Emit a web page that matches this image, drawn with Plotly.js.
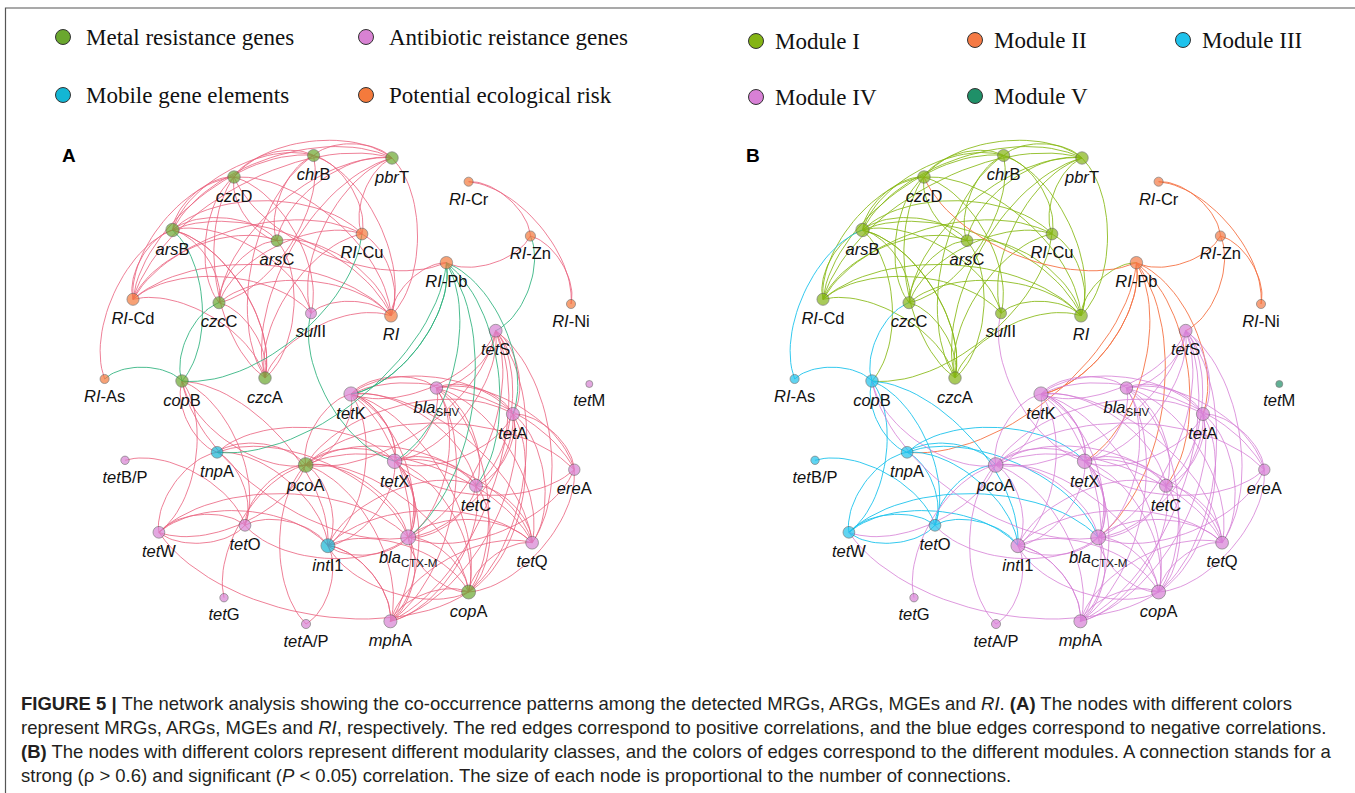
<!DOCTYPE html>
<html><head><meta charset="utf-8">
<script src="https://cdn.plot.ly/plotly-3.0.1.min.js"></script>
<style>html,body{margin:0;padding:0;background:#fff}#chart{width:1355px;height:793px}</style>
</head><body><div id="chart"></div>
<script>
// ---------------- DATA ----------------
const nodeIds = ['czcD','chrB','pbrT','RI-Cr','arsB','arsC','RI-Cu','RI-Zn','RI-Pb','RI-Cd','czcC','sulII','RI','RI-Ni',
  'tetS','RI-As','copB','czcA','tetK','blaSHV','tetM','tetA','tnpA','tetB/P','pcoA','tetX','ereA','tetC','tetW','tetO',
  'intI1','blaCTX-M','tetQ','copA','tetG','mphA','tetA/P'];
const nodeLabels = ['<i>czc</i>D','<i>chr</i>B','<i>pbr</i>T','<i>RI</i>-Cr','<i>ars</i>B','<i>ars</i>C','<i>RI</i>-Cu','<i>RI</i>-Zn',
  '<i>RI</i>-Pb','<i>RI</i>-Cd','<i>czc</i>C','<i>sul</i>II','<i>RI</i>','<i>RI</i>-Ni','<i>tet</i>S','<i>RI</i>-As','<i>cop</i>B',
  '<i>czc</i>A','<i>tet</i>K','<i>bla</i><sub>SHV</sub>','<i>tet</i>M','<i>tet</i>A','<i>tnp</i>A','<i>tet</i>B/P','<i>pco</i>A',
  '<i>tet</i>X','<i>ere</i>A','<i>tet</i>C','<i>tet</i>W','<i>tet</i>O','<i>int</i>I1','<i>bla</i><sub>CTX-M</sub>','<i>tet</i>Q',
  '<i>cop</i>A','<i>tet</i>G','<i>mph</i>A','<i>tet</i>A/P'];
// layout coordinates of the network (shared by both panels)
const nodeX = [234,313.6,392,468.6,172.5,277,362,530.4,446.4,133,219,311,391,571,
  495.7,104.6,182,265,351,436.4,589.3,512.9,217.1,125,305.7,394.6,574.3,476,158.9,245,
  327.9,408.2,532.1,468.6,224,390.4,306];
const nodeY = [177,155.5,158,181.7,230,240.7,234,236,262.7,299.3,302.7,313.3,315.7,304,
  330.7,379,381,378,394,388,384,414,452.3,460.3,465,461.3,469.7,485.7,532.3,525.3,
  545.7,537.3,542.7,592,597.7,621.3,624];
const nodeCategory = ['MRG','MRG','MRG','RI','MRG','MRG','RI','RI','RI','RI','MRG','ARG','RI','RI',
  'ARG','RI','MRG','MRG','ARG','ARG','ARG','ARG','MGE','ARG','MRG','ARG','ARG','ARG','ARG','ARG',
  'MGE','ARG','ARG','MRG','ARG','ARG','ARG'];
const nodeModule = [1,1,1,2,1,1,1,2,2,1,1,1,1,2,
  4,3,3,1,4,4,5,4,3,3,4,4,4,4,3,3,
  4,4,4,4,4,4,4];
// edges: [source, target, sign of correlation]
const edges = [
  ['czcD','chrB',1],['czcD','pbrT',1],['chrB','pbrT',1],['arsB','czcD',1],['arsB','chrB',1],['arsB','pbrT',1],
  ['arsB','arsC',1],['arsB','RI-Cu',1],['arsB','RI',1],['arsB','czcA',1],['arsB','czcC',1],['RI-Cd','arsB',1],
  ['arsC','czcD',1],['arsC','chrB',1],['arsC','pbrT',1],['RI-Cd','arsC',1],['arsC','czcA',1],['arsC','RI',1],
  ['czcC','arsC',1],['RI-Cd','czcD',1],['RI-Cd','pbrT',1],['RI-Cd','chrB',1],['RI-Cd','RI',1],['RI-Cd','sulII',1],
  ['RI-Cd','RI-Cu',1],['czcC','czcD',1],['czcC','pbrT',1],['czcC','RI',1],['czcC','RI-Cu',1],['czcC','czcA',1],
  ['czcA','czcD',1],['czcA','chrB',1],['czcA','pbrT',1],['czcA','RI',1],['chrB','RI',1],['pbrT','RI',1],
  ['sulII','RI',1],['sulII','pbrT',1],['czcA','RI-Cu',1],['RI-Cd','czcA',1],['RI-Cu','pbrT',1],['czcD','RI',1],
  ['chrB','czcC',1],['czcD','sulII',1],['arsB','sulII',1],['RI-Cu','RI',1],['chrB','RI-Cu',1],['arsB','czcA',1],
  ['RI-Cr','RI-Zn',1],['RI-Cr','RI-Ni',1],['RI-Zn','RI-Pb',1],['RI-Zn','RI-Ni',1],['RI','RI-Pb',1],['RI-Pb','czcD',1],
  ['RI-Zn','tetS',-1],['RI-Pb','tetK',-1],['RI-Pb','tetX',-1],['RI-Pb','blaCTX-M',-1],['RI-Pb','tetC',-1],
  ['RI-Pb','tetA',-1],['RI-Pb','tnpA',-1],['RI-Pb','tetK',-1],
  ['RI-As','copB',-1],['arsB','copB',-1],['copB','czcC',-1],['RI-Cu','copB',-1],['RI-As','arsB',1],
  ['tnpA','copB',1],['copB','tetO',1],['copB','tetW',1],['copB','intI1',1],['pcoA','copB',1],['blaCTX-M','copB',1],
  ['tnpA','tetO',1],['tetW','tnpA',1],['tnpA','pcoA',1],['tnpA','intI1',1],['tnpA','blaCTX-M',1],['tnpA','tetX',1],
  ['tetB/P','tetO',1],['tetW','tetO',1],['tetO','tetW',1],['tetW','intI1',1],['tetW','blaCTX-M',1],['pcoA','tetW',1],
  ['tetO','pcoA',1],['tetO','intI1',1],['tetX','sulII',-1],['copA','tetW',1],['blaCTX-M','tetO',1],
  ['tetS','tetK',1],['tetS','blaSHV',1],['tetS','tetX',1],['tetS','tetA',1],['tetS','tetC',1],['tetS','blaCTX-M',1],
  ['tetS','copA',1],['tetS','mphA',1],['tetS','tetQ',1],['tetK','blaSHV',1],['tetK','tetA',1],['tetK','tetX',1],
  ['tetK','tetC',1],['tetK','blaCTX-M',1],['tetK','mphA',1],['tetK','copA',1],['tetK','tetQ',1],['tetK','ereA',1],
  ['pcoA','tetK',1],['tetK','intI1',1],['blaSHV','tetA',1],['blaSHV','tetX',1],['blaSHV','tetC',1],
  ['blaSHV','blaCTX-M',1],['blaSHV','mphA',1],['blaSHV','copA',1],['blaSHV','tetQ',1],['blaSHV','ereA',1],
  ['tetA','tetX',1],['tetA','tetC',1],['tetA','blaCTX-M',1],['tetA','copA',1],['tetA','tetQ',1],['tetA','ereA',1],
  ['tetA','mphA',1],['pcoA','tetA',1],['tetX','tetC',1],['tetX','blaCTX-M',1],['tetX','mphA',1],['tetX','copA',1],
  ['tetX','tetQ',1],['pcoA','tetX',1],['tetX','intI1',1],['tetC','blaCTX-M',1],['tetC','copA',1],['tetC','tetQ',1],
  ['tetC','mphA',1],['pcoA','tetC',1],['blaCTX-M','mphA',1],['copA','blaCTX-M',1],['blaCTX-M','intI1',1],
  ['pcoA','blaCTX-M',1],['blaCTX-M','tetQ',1],['mphA','copA',1],['intI1','mphA',1],['pcoA','mphA',1],
  ['intI1','copA',1],['pcoA','copA',1],['copA','tetQ',1],['ereA','copA',1],['ereA','blaCTX-M',1],['ereA','tetX',1],
  ['intI1','tetQ',1],['pcoA','intI1',1],['tetG','pcoA',1],['intI1','tetA/P',1],['tetA/P','pcoA',1],['pcoA','tetQ',1],
  ['intI1','tetC',1],['tetK','tetX',1],['tetX','blaCTX-M',1],['intI1','mphA',1],['blaCTX-M','copA',1],
  ['pcoA','ereA',1],['mphA','tetQ',1],['tetK','pcoA',1],['copA','intI1',1],['tetS','pcoA',1]
];
const categoryNames = ['Metal resistance genes','Antibiotic reistance genes','Mobile gene elements','Potential ecological risk'];
const categoryKeys = ['MRG','ARG','MGE','RI'];
const moduleNames = ['Module I','Module II','Module III','Module IV','Module V'];
const captionLines = [
  '<b>FIGURE 5 |</b> The network analysis showing the co-occurrence patterns among the detected MRGs, ARGs, MGEs and <i>RI</i>. <b>(A)</b> The nodes with different colors',
  'represent MRGs, ARGs, MGEs and <i>RI</i>, respectively. The red edges correspond to positive correlations, and the blue edges correspond to negative correlations.',
  '<b>(B)</b> The nodes with different colors represent different modularity classes, and the colors of edges correspond to the different modules. A connection stands for a',
  'strong (\u03c1 > 0.6) and significant (<i>P</i> < 0.05) correlation. The size of each node is proportional to the number of connections.'
];

// ---------------- STYLE ----------------
const catColor = {MRG:'#6aa72e', ARG:'#d882d3', MGE:'#13b6d4', RI:'#f47a3c'};
const modColor = {1:'#84b414', 2:'#f57a45', 3:'#1ec2ec', 4:'#d880d6', 5:'#1f9068'};
const modEdge = {1:'rgba(135,185,20,0.85)', 2:'rgba(245,115,70,0.9)', 3:'rgba(30,195,236,0.9)', 4:'rgba(214,128,214,0.8)', 5:'rgba(31,144,104,0.8)'};
const posEdge = 'rgba(234,100,128,0.82)', negEdge = 'rgba(45,178,125,0.85)';
const PANEL_B_SHIFT = 690;
const CURV = 0.22;

const idx = {}; nodeIds.forEach((n,i)=>idx[n]=i);
const deg = nodeIds.map(()=>0);
edges.forEach(e=>{deg[idx[e[0]]]++; deg[idx[e[1]]]++;});
const maxDeg = Math.max(...deg);
const nodeSize = deg.map(d=>7 + 8*Math.pow(d/maxDeg,0.6));

function curvePts(a,b){
  const x1=nodeX[a], y1=nodeY[a], x2=nodeX[b], y2=nodeY[b];
  const dx=x2-x1, dy=y2-y1, L=Math.hypot(dx,dy);
  const ux=dx/L, uy=dy/L, f=CURV*L;
  const nx=uy*f, ny=-ux*f;
  const c1x=x1+ux*f+nx, c1y=y1+uy*f+ny, c2x=x2-ux*f+nx, c2y=y2-uy*f+ny;
  const xs=[], ys=[];
  for(let k=0;k<=28;k++){
    const t=k/28, m=1-t;
    xs.push(m*m*m*x1+3*m*m*t*c1x+3*m*t*t*c2x+t*t*t*x2);
    ys.push(m*m*m*y1+3*m*m*t*c1y+3*m*t*t*c2y+t*t*t*y2);
  }
  return [xs,ys];
}

const traces = [];
function edgeTrace(list, color, xaxis){
  const X=[], Y=[];
  list.forEach(e=>{const p=curvePts(idx[e[0]],idx[e[1]]); X.push(...p[0],null); Y.push(...p[1],null);});
  return {type:'scatter', mode:'lines', x:X, y:Y, xaxis:xaxis, yaxis:'y', hoverinfo:'skip', showlegend:false,
    line:{color:color, width:1}};
}
traces.push(edgeTrace(edges.filter(e=>e[2]>0), posEdge, 'x'));
traces.push(edgeTrace(edges.filter(e=>e[2]<0), negEdge, 'x'));
[1,2,3,4,5].forEach(m=>{
  const l = edges.filter(e=>nodeModule[idx[e[0]]]===m);
  if(l.length) traces.push(edgeTrace(l, modEdge[m], 'x2'));
});
const labelFont = {family:'Liberation Sans, Arial, sans-serif', size:16.5, color:'#111'};
const labelY = nodeY.map((y,i)=>y + nodeSize[i]/2 + 6);
['x','x2'].forEach((ax,p)=>{
  traces.push({type:'scatter', mode:'markers', x:nodeX, y:nodeY, xaxis:ax, yaxis:'y', hoverinfo:'skip', showlegend:false,
    marker:{size:nodeSize, color:p===0 ? nodeCategory.map(c=>catColor[c]) : nodeModule.map(m=>modColor[m]),
      line:{color:'#4a4a4a', width:0.7}}});
  traces.push({type:'scatter', mode:'text', x:nodeX, y:labelY, xaxis:ax, yaxis:'y', text:nodeLabels,
    textposition:'bottom center', textfont:labelFont, hoverinfo:'skip', showlegend:false, cliponaxis:false});
});

const legA = {x:[63,366,63,366], y:[37,37,95,95]};
const legB = {x:[756,975,1183,756,975], y:[41,40,40,97,96]};
traces.push({type:'scatter', mode:'markers', x:legA.x, y:legA.y, xaxis:'x', yaxis:'y', hoverinfo:'skip', showlegend:false,
  marker:{size:15, color:categoryKeys.map(k=>catColor[k]), line:{color:'#333', width:1}}});
traces.push({type:'scatter', mode:'markers', x:legB.x, y:legB.y, xaxis:'x', yaxis:'y', hoverinfo:'skip', showlegend:false,
  marker:{size:15, color:[1,2,3,4,5].map(m=>modColor[m]), line:{color:'#333', width:1}}});

const ann = [];
const serif = {family:'Liberation Serif, Times New Roman, serif', size:23, color:'#111'};
categoryNames.forEach((n,i)=>ann.push({x:legA.x[i]+21, y:legA.y[i], xref:'x', yref:'y', text:n, showarrow:false, xanchor:'left', yanchor:'middle', font:serif}));
moduleNames.forEach((n,i)=>ann.push({x:legB.x[i]+17, y:legB.y[i], xref:'x', yref:'y', text:n, showarrow:false, xanchor:'left', yanchor:'middle', font:serif}));
ann.push({x:60, y:155, xref:'x', yref:'y', text:'<b>A</b>', showarrow:false, xanchor:'left', yanchor:'middle', font:{family:'Liberation Sans, Arial', size:19, color:'#000'}});
ann.push({x:744, y:155, xref:'x', yref:'y', text:'<b>B</b>', showarrow:false, xanchor:'left', yanchor:'middle', font:{family:'Liberation Sans, Arial', size:19, color:'#000'}});
captionLines.forEach((t,i)=>ann.push({x:19, y:703+24*i, xref:'x', yref:'y', text:t, showarrow:false, xanchor:'left', yanchor:'middle',
  font:{family:'Liberation Sans, Arial, sans-serif', size:18.5, color:'#231f20'}}));

const layout = {
  width:1355, height:793, margin:{l:0,r:0,t:0,b:0}, paper_bgcolor:'#fff', plot_bgcolor:'#fff', showlegend:false,
  xaxis:{range:[0,1355], visible:false, fixedrange:true},
  xaxis2:{range:[-PANEL_B_SHIFT,1355-PANEL_B_SHIFT], visible:false, overlaying:'x', anchor:'y', fixedrange:true},
  yaxis:{range:[793,0], visible:false, fixedrange:true},
  annotations:ann,
  shapes:[{type:'rect', xref:'x', yref:'y', x0:5.5, y0:8, x1:1362, y1:800, line:{color:'#555', width:1.2}}]
};
Plotly.newPlot('chart', traces, layout, {staticPlot:true, displayModeBar:false});
</script>
</body></html>
